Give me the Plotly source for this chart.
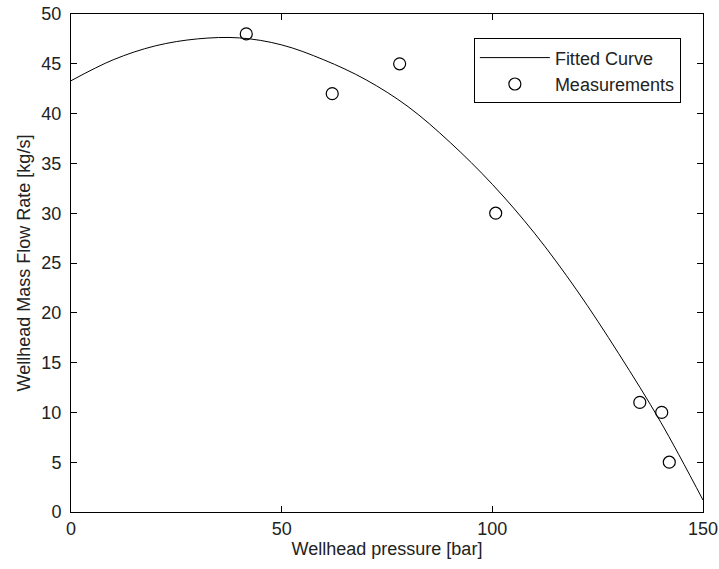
import plotly.graph_objects as go

# Fitted curve
curve_x = [0, 10, 20, 30, 40, 50, 60, 70, 80, 90, 100, 110, 120, 130, 140, 150]
curve_y = [43.3, 45.4, 46.8, 47.5, 47.6, 46.9, 45.4, 43.4, 40.7, 37.1, 32.9, 28.0, 22.3, 15.9, 9.0, 1.2]

# Measurements
meas_x = [41.6, 62, 78, 100.8, 135, 140.2, 142]
meas_y = [48, 42, 45, 30, 11, 10, 5]

x_ticks = [0, 50, 100, 150]
y_ticks = [0, 5, 10, 15, 20, 25, 30, 35, 40, 45, 50]

FONT = "Liberation Sans, Arial, sans-serif"
FS = 18

fig = go.Figure()
fig.add_trace(go.Scatter(x=curve_x, y=curve_y, mode="lines", name="Fitted Curve",
                         line=dict(color="black", width=1, shape="spline")))
fig.add_trace(go.Scatter(x=meas_x, y=meas_y, mode="markers", name="Measurements",
                         marker=dict(symbol="circle-open", size=12, color="black",
                                     line=dict(width=1.2, color="black"))))

axis_common = dict(showgrid=False, zeroline=False, showline=True, linecolor="black",
                   linewidth=1, mirror="ticks", ticks="inside", ticklen=6,
                   tickcolor="black", automargin=False,
                   tickfont=dict(family=FONT, size=FS, color="#222"))

fig.update_layout(
    width=719, height=569,
    margin=dict(l=71, r=16, t=14, b=57),
    paper_bgcolor="white", plot_bgcolor="white",
    font=dict(family=FONT, size=FS, color="black"),
    xaxis=dict(range=[0, 150], tickvals=x_ticks, ticklabelstandoff=0,
               title=dict(text="Wellhead pressure [bar]", standoff=4,
                          font=dict(family=FONT, size=FS, color="#222")), **axis_common),
    yaxis=dict(range=[0, 50], tickvals=y_ticks, ticklabelstandoff=5,
               title=dict(text="Wellhead Mass Flow Rate [kg/s]", standoff=6,
                          font=dict(family=FONT, size=FS, color="#222")), **axis_common),
    legend=dict(x=0.965, y=0.951, xanchor="right", yanchor="top",
                bordercolor="black", borderwidth=1, bgcolor="white",
                font=dict(family=FONT, size=FS, color="#222"), tracegroupgap=0,
                itemwidth=70),
    showlegend=True,
)

fig.write_html("out.html", config={"displayModeBar": False},
               post_script="document.body.style.margin='0px';")
